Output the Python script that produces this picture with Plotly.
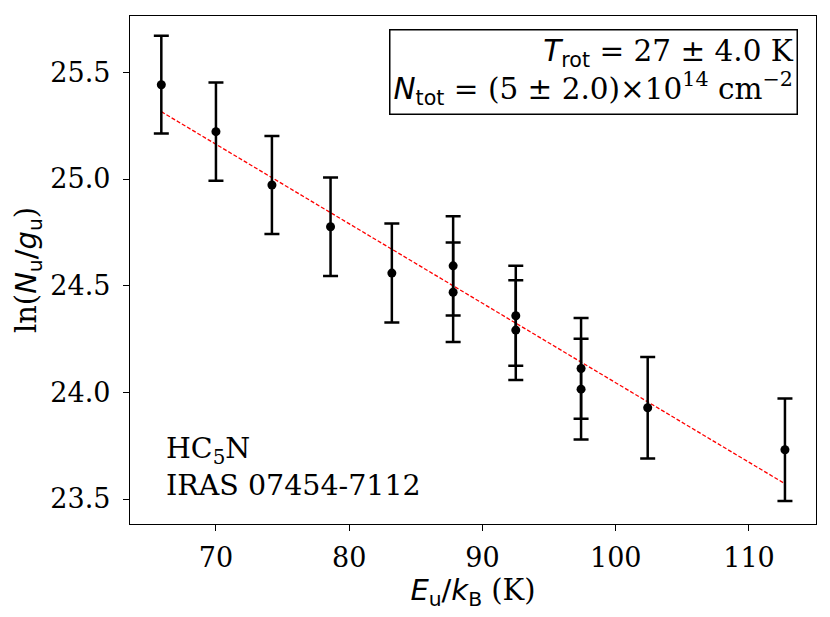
import plotly.graph_objects as go
import numpy as np

# rotation diagram points (upper level energy vs column density per state)
eu_k = [65.9, 70.0, 74.2, 78.6, 83.2, 87.8, 87.8, 92.5, 92.5, 97.4, 97.4, 102.4, 112.7]
ln_nu_gu = [25.442, 25.222, 24.972, 24.776, 24.559, 24.593, 24.469,
            24.359, 24.292, 24.112, 24.015, 23.928, 23.731]
err = [0.229, 0.230, 0.230, 0.231, 0.232, 0.233, 0.233,
       0.234, 0.234, 0.236, 0.236, 0.238, 0.240]

# linear fit, slope = -1/Trot
fit_slope = -0.03726
fit_intercept = 27.771

xticks = [70, 80, 90, 100, 110]
yticks = [23.5, 24.0, 24.5, 25.0, 25.5]

serif = "DejaVu Serif"
sans = "DejaVu Sans"

fit_x = np.array([min(eu_k), max(eu_k)])
fit_y = fit_intercept + fit_slope * fit_x

fig = go.Figure()

fig.add_trace(go.Scatter(
    x=fit_x, y=fit_y, mode="lines",
    line=dict(color="red", width=1.3, dash="4px,2px"),
    showlegend=False,
))

fig.add_trace(go.Scatter(
    x=eu_k, y=ln_nu_gu, mode="markers",
    marker=dict(color="black", size=9),
    error_y=dict(type="data", array=err, visible=True,
                 color="black", thickness=2.5, width=7.5),
    showlegend=False,
))

def s(t):
    return f'<span style="font-family:{sans}">{t}</span>'

box_text = (
    s("<i>T</i><sub>rot</sub>") + " = 27 ± 4.0 K<br>"
    + s("<i>N</i><sub>tot</sub>") + " = (5 ± 2.0)×10<sup>14</sup> cm<sup>−2</sup>"
)

fig.add_annotation(
    text=box_text, xref="paper", yref="paper",
    x=(798 - 130) / 686, y=1 - (29 - 16) / 508,
    xanchor="right", yanchor="top", align="right", showarrow=False,
    font=dict(family=serif, size=29.5, color="black"),
    bordercolor="black", borderwidth=1.5, borderpad=3, bgcolor="white",
)

fig.add_annotation(
    text="HC<sub>5</sub>N<br>IRAS 07454-7112", xref="paper", yref="paper",
    x=0.05, y=0.04, xanchor="left", yanchor="bottom", align="left",
    showarrow=False, font=dict(family=serif, size=28.5, color="black"),
)

axis_common = dict(
    showline=True, linecolor="black", linewidth=1.3, mirror=True,
    ticks="outside", ticklen=6, tickwidth=1.3, tickcolor="black",
    showgrid=False, zeroline=False, automargin=False,
    tickfont=dict(family=serif, size=27, color="black"),
)

fig.update_xaxes(
    range=[63.55, 115.03], tickvals=xticks, ticktext=[str(v) for v in xticks],
    ticklabelstandoff=3,
    title=dict(text=s("<i>E</i><sub>u</sub>/<i>k</i><sub>B</sub>") + " (K)",
               font=dict(family=serif, size=29, color="black"), standoff=7),
    **axis_common,
)
fig.update_yaxes(
    range=[23.383, 25.764], tickvals=yticks, ticktext=[f"{v:.1f}" for v in yticks],
    ticklabelstandoff=7,
    title=dict(text="ln(" + s("<i>N</i><sub>u</sub>/<i>g</i><sub>u</sub>") + ")",
               font=dict(family=serif, size=29, color="black"), standoff=5),
    **axis_common,
)

fig.update_layout(
    width=830, height=617,
    margin=dict(l=130, r=14, t=16, b=93),
    plot_bgcolor="white", paper_bgcolor="white",
)

# drop the page's default body margin so the figure sits at the window corner
fig.write_html("out.html", config={"displayModeBar": False},
               post_script="document.body.style.margin='0';")
